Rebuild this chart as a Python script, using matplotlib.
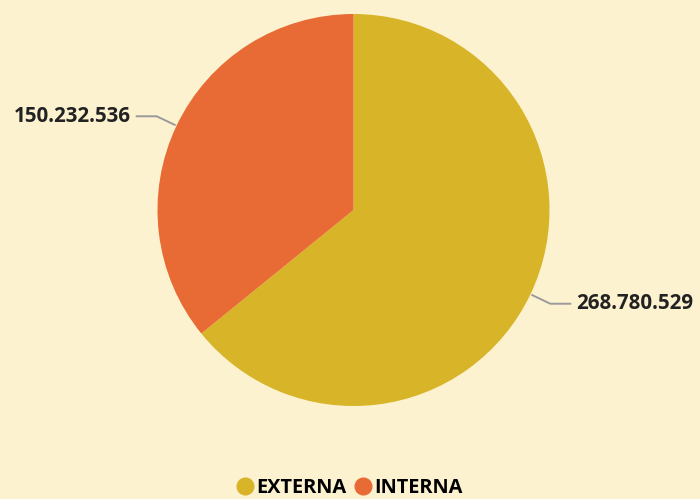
import numpy as np
import matplotlib.pyplot as plt
from matplotlib.lines import Line2D

categories = ["EXTERNA", "INTERNA"]
values = [268780529, 150232536]
labels = ["268.780.529", "150.232.536"]
colors = ["#D8B428", "#E86B35"]
bg = "#FDF2D0"

fig = plt.figure(figsize=(7, 4.99), dpi=100, facecolor=bg)
ax = fig.add_axes([0, 0, 1, 1])
ax.set_facecolor(bg)

cx, cy, r = 353.5, 289, 196
wedges, _ = ax.pie(values, colors=colors, startangle=90, counterclock=False,
                   center=(cx, cy), radius=r, frame=True)
ax.set_xlim(0, 700)
ax.set_ylim(0, 499)
ax.set_aspect("equal")
ax.axis("off")

font = dict(family=["Open Sans", "DejaVu Sans"], fontweight="bold", fontsize=14.8, color="#222222")

for w, lab in zip(wedges, labels):
    mid = np.deg2rad((w.theta1 + w.theta2) / 2)
    c, s = np.cos(mid), np.sin(mid)
    x0, y0 = cx + (r + 2) * c, cy + (r + 2) * s
    x1, y1 = cx + (r + 22) * c, cy + (r + 22) * s
    side = 1 if c >= 0 else -1
    x2 = x1 + side * 20
    ax.plot([x0, x1, x2], [y0, y1, y1], color="#9a9a9a", lw=1.4)
    ax.text(x2 + side * 6, y1, lab, ha="left" if side > 0 else "right",
            va="center", **font)

handles = [Line2D([], [], marker="o", ls="", markersize=12, markerfacecolor=col,
                  markeredgecolor=col) for col in colors]
fig.legend(handles, categories, loc="center", bbox_to_anchor=(0.5, 1 - 488 / 499),
           ncol=2, frameon=False, handlelength=0.8, handletextpad=0.15,
           columnspacing=0.45,
           prop=dict(family=["Open Sans", "DejaVu Sans"], weight="bold", size=14.4))

fig.savefig("out.png", dpi=100, facecolor=bg)
